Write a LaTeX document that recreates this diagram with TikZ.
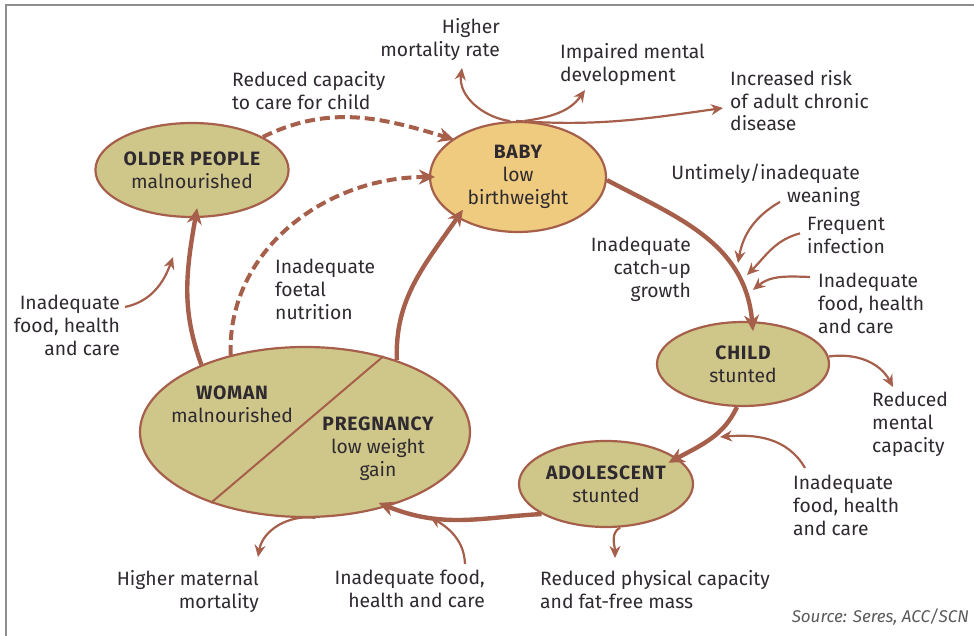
\documentclass[tikz,border=0pt]{standalone}
\usepackage{fontspec}
\setmainfont{Fira Sans}
\usetikzlibrary{arrows.meta,shapes.geometric}
\definecolor{ink}{HTML}{2F2A30}
\definecolor{frameline}{HTML}{8E8E8E}
\definecolor{olive}{HTML}{CFC68A}
\definecolor{babyfill}{HTML}{EFCB7F}
\definecolor{rust}{HTML}{A65F4A}
\definecolor{srcgray}{HTML}{5A5A5A}
\newcommand{\txt}{\fontsize{19.3}{22.8}\selectfont}
\newcommand{\ttl}[1]{{\bfseries\addfontfeature{LetterSpace=4}#1}}
% thick step of the life cycle
\newcommand{\cyc}[4]{%
  \draw[-{Stealth[length=16pt,width=15pt]}, rust, line width=4.4pt, shorten >=-10pt] (#1) to[out=#3,in=#4] (#2);}
% thin cause / effect arrow
\newcommand{\eff}[4]{%
  \draw[-{Stealth[length=12pt,width=11pt]}, rust, line width=2.2pt] (#1) to[out=#3,in=#4] (#2);}
\tikzset{
  stage/.style={ellipse, draw=rust, line width=2.2pt, fill=olive, text=ink, align=center,
                font=\txt, inner sep=0pt},
  lbl/.style={font=\txt, text=ink, inner sep=0pt},
  weak/.style={-{Stealth[length=16pt,width=15pt]}, rust, line width=4pt, dash pattern=on 10pt off 5pt}
}

\begin{document}
\begin{tikzpicture}[x=1pt,y=1pt]
\useasboundingbox (0,0) rectangle (974,636);

% ---------- frame
\draw[frameline, line width=1.6pt] (6,0) -- (6,631) -- (974,631);

% ---------- stages of the life cycle
\node[stage, minimum width=190pt, minimum height=94pt] (older) at (192,466) {\ttl{OLDER PEOPLE}\\malnourished};
\node[stage, fill=babyfill, minimum width=176pt, minimum height=110pt] (baby) at (518,459) {\ttl{BABY}\\low\\birthweight};
\node[stage, minimum width=172pt, minimum height=84pt] (child) at (743,272) {\ttl{CHILD}\\stunted};
\node[stage, minimum width=174pt, minimum height=86pt] (adol) at (606,152) {\ttl{ADOLESCENT}\\stunted};
\node[stage, minimum width=330pt, minimum height=170pt] (woman) at (305,204) {};
\draw[rust, line width=2pt] (woman.44) -- (woman.217);
\node[lbl, align=center] (womantxt) at (232,232) {\ttl{WOMAN}\\malnourished};
\node[lbl, align=center] (pregtxt) at (378,187) {\ttl{PREGNANCY}\\low weight\\gain};

% ---------- labels
\node[lbl, anchor=north east, align=right] (mort) at (500,618) {Higher\\mortality rate};
\node[lbl, anchor=north west, align=left] (mental) at (560,593) {Impaired mental\\development};
\node[lbl, anchor=north west, align=left] (chronic) at (730,566) {Increased risk\\of adult chronic\\disease};
\node[lbl, anchor=north west, align=left] (care) at (232,565) {Reduced capacity\\to care for child};
\node[lbl, anchor=north east, align=right] (wean) at (860,472) {Untimely/inadequate\\weaning};
\node[lbl, anchor=north west, align=left] (infect) at (807,419) {Frequent\\infection};
\node[lbl, anchor=north west, align=left] (foodchild) at (818,363) {Inadequate\\food, health\\and care};
\node[lbl, anchor=north east, align=right] (catchup) at (691,399) {Inadequate\\catch-up\\growth};
\node[lbl, anchor=north west, align=left] (foetal) at (275,377) {Inadequate\\foetal\\nutrition};
\node[lbl, anchor=north east, align=right] (foodold) at (120,341) {Inadequate\\food, health\\and care};
\node[lbl, anchor=north west, align=left] (mentcap) at (872,244) {Reduced\\mental\\capacity};
\node[lbl, anchor=north west, align=left] (foodadol) at (793,161) {Inadequate\\food, health\\and care};
\node[lbl, anchor=north east, align=right] (maternal) at (259,66) {Higher maternal\\mortality};
\node[lbl, anchor=north east, align=right] (foodpreg) at (485,66) {Inadequate food,\\health and care};
\node[lbl, anchor=north west, align=left] (physical) at (540,66) {Reduced physical capacity\\and fat-free mass};
\node[lbl, anchor=base east, font=\fontsize{17}{19}\selectfont\itshape, text=srcgray] (source) at (969,13) {Source: Seres, ACC/SCN};

% ---------- arrow ends that sit on other arrows or by labels
\coordinate (morttip) at (462,568);
\coordinate (mentaltip) at (585,546);
\coordinate (chronictip) at (723,528);
\coordinate (weantip) at (738,373);
\coordinate (infecttip) at (747,361);
\coordinate (foodchildtip) at (753,346);
\coordinate (mentcaptip) at (893,249);
\coordinate (foodadoltip) at (720,199);
\coordinate (physicaltip) at (615,78);
\coordinate (maternaltip) at (258,79);
\coordinate (foodpregtip) at (430,119);
\coordinate (foodoldtip) at (173,379);

% ---------- main cycle
\cyc{baby.-2}{child.78}{-28}{95}
\cyc{child.-98}{adol.20}{-115}{28}
\cyc{adol.-155}{woman.-42}{183}{-22}
\cyc{woman.38}{baby.-146}{92}{235}
\cyc{woman.147}{older.-86}{110}{-100}
\draw[weak, shorten >=-2pt] (older.25) to[out=26,in=163] (baby.150);
\draw[weak, shorten >=-6pt] (woman.134) to[out=92,in=180] (baby.west);

% ---------- effects of low birthweight
\eff{baby.98}{morttip}{172}{-98}
\eff{baby.84}{mentaltip}{8}{-125}
\eff{baby.92}{chronictip}{-4}{188}

% ---------- childhood causes and effects
\eff{[xshift=-80pt,yshift=5pt]wean.south east}{weantip}{210}{80}
\eff{[xshift=-7pt,yshift=2pt]infect.west}{infecttip}{195}{45}
\eff{[xshift=-8pt,yshift=-4pt]foodchild.north west}{foodchildtip}{178}{40}
\eff{child.5}{mentcaptip}{8}{118}
\eff{[xshift=12pt,yshift=7pt]foodadol.north west}{foodadoltip}{120}{5}
\eff{adol.-72}{physicaltip}{-150}{90}

% ---------- mother and older people
\eff{woman.-83}{maternaltip}{172}{80}
\eff{[xshift=-20pt,yshift=6pt]foodpreg.north east}{foodpregtip}{92}{-30}
\eff{[xshift=5pt,yshift=-12pt]foodold.north east}{foodoldtip}{12}{-110}

\end{tikzpicture}
\end{document}
